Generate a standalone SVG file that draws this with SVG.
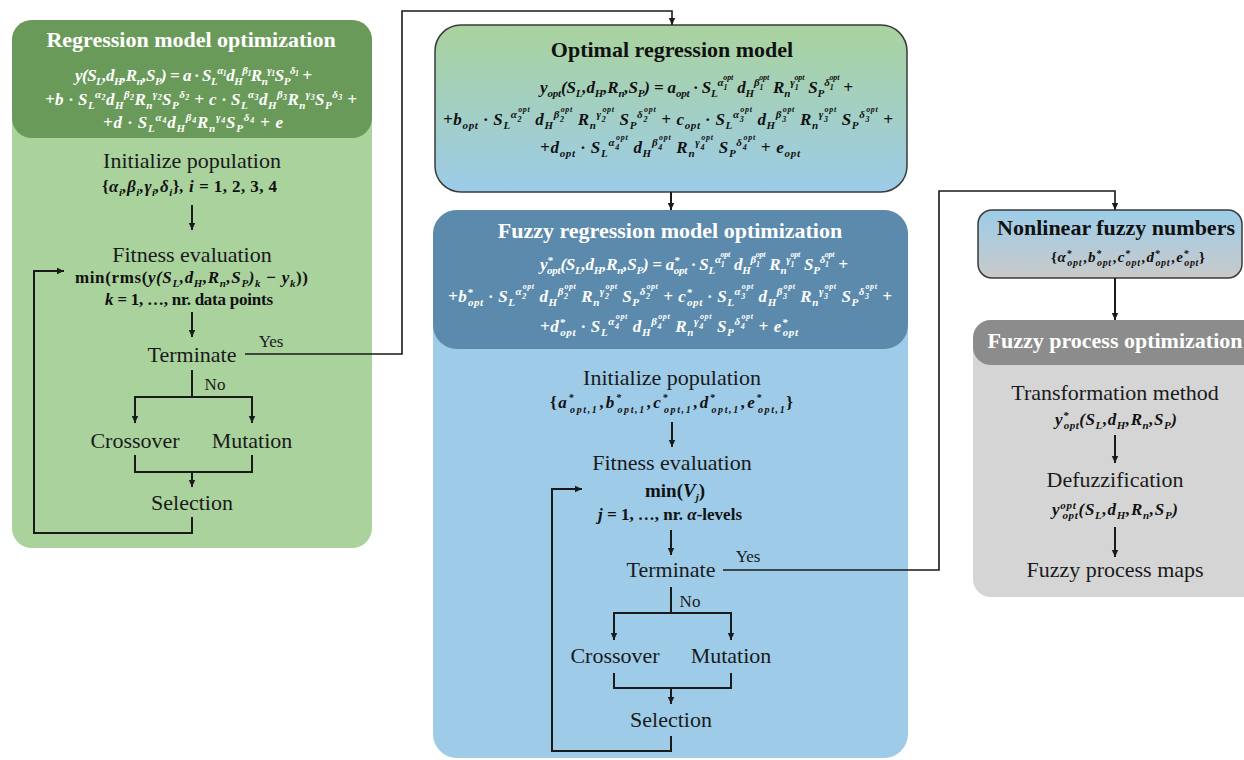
<svg xmlns="http://www.w3.org/2000/svg" width="1244" height="760" viewBox="0 0 1244 760">
<defs>
<linearGradient id="gOpt" x1="0" y1="0" x2="0" y2="1">
<stop offset="0" stop-color="#a9d39d"/><stop offset="1" stop-color="#9ccbe9"/>
</linearGradient>
<linearGradient id="gNon" x1="0" y1="0" x2="0" y2="1">
<stop offset="0" stop-color="#9ccde9"/><stop offset="1" stop-color="#c9c9c9"/>
</linearGradient>
<marker id="ah" markerUnits="userSpaceOnUse" markerWidth="8" markerHeight="8" refX="7" refY="4" orient="auto">
<path d="M0,0.8 L7,4 L0,7.2 z" fill="#1a1a1a"/>
</marker>
<style>
.t{font-family:"Liberation Serif",serif;font-size:22px;text-anchor:middle;fill:#1a1a1a}
.hd{font-weight:bold;fill:#fff}
.tb{font-weight:bold;fill:#111}
.lbl{font-size:17px}
.m{font-family:"Liberation Serif",serif;font-weight:bold;font-style:italic;font-size:17px;fill:#111}
.w{fill:#fff}
.s{font-size:11px}
.s2{font-size:10px}
.x{font-size:8px}
.u{font-style:normal}
.ln{fill:none;stroke:#1a1a1a;stroke-width:2}
.la{fill:none;stroke:#1a1a1a;stroke-width:2;marker-end:url(#ah)}
.lc{fill:none;stroke:#1a1a1a;stroke-width:1.6}
</style>
</defs>
<rect width="1244" height="760" fill="#fff"/>

<g id="regression-model-optimization">
<rect x="12" y="20" width="360" height="528" rx="20" fill="#a9d29d"/>
<rect x="12" y="20" width="360" height="118" rx="20" fill="#6a9a5a"/>
<text class="t hd" x="191" y="47">Regression model optimization</text>
<text class="m w" x="75" y="81" textLength="237" lengthAdjust="spacing">y(S<tspan class="s" baseline-shift="-4">L</tspan>,d<tspan class="s" baseline-shift="-4">H</tspan>,R<tspan class="s" baseline-shift="-4">n</tspan>,S<tspan class="s" baseline-shift="-4">P</tspan>) = a · S<tspan class="s" baseline-shift="-4">L</tspan><tspan class="s" baseline-shift="7">α</tspan><tspan class="x" baseline-shift="5">1</tspan>d<tspan class="s" baseline-shift="-4">H</tspan><tspan class="s" baseline-shift="7">β</tspan><tspan class="x" baseline-shift="5">1</tspan>R<tspan class="s" baseline-shift="-4">n</tspan><tspan class="s" baseline-shift="7">γ</tspan><tspan class="x" baseline-shift="5">1</tspan>S<tspan class="s" baseline-shift="-4">P</tspan><tspan class="s" baseline-shift="7">δ</tspan><tspan class="x" baseline-shift="5">1</tspan> +</text>
<text class="m w" x="45" y="105" textLength="312" lengthAdjust="spacing">+b · S<tspan class="s" baseline-shift="-4">L</tspan><tspan class="s" baseline-shift="7">α</tspan><tspan class="x" baseline-shift="5">2</tspan>d<tspan class="s" baseline-shift="-4">H</tspan><tspan class="s" baseline-shift="7">β</tspan><tspan class="x" baseline-shift="5">2</tspan>R<tspan class="s" baseline-shift="-4">n</tspan><tspan class="s" baseline-shift="7">γ</tspan><tspan class="x" baseline-shift="5">2</tspan>S<tspan class="s" baseline-shift="-4">P</tspan><tspan class="s" baseline-shift="7">δ</tspan><tspan class="x" baseline-shift="5">2</tspan> + c · S<tspan class="s" baseline-shift="-4">L</tspan><tspan class="s" baseline-shift="7">α</tspan><tspan class="x" baseline-shift="5">3</tspan>d<tspan class="s" baseline-shift="-4">H</tspan><tspan class="s" baseline-shift="7">β</tspan><tspan class="x" baseline-shift="5">3</tspan>R<tspan class="s" baseline-shift="-4">n</tspan><tspan class="s" baseline-shift="7">γ</tspan><tspan class="x" baseline-shift="5">3</tspan>S<tspan class="s" baseline-shift="-4">P</tspan><tspan class="s" baseline-shift="7">δ</tspan><tspan class="x" baseline-shift="5">3</tspan> +</text>
<text class="m w" x="103" y="128" textLength="180" lengthAdjust="spacing">+d · S<tspan class="s" baseline-shift="-4">L</tspan><tspan class="s" baseline-shift="7">α</tspan><tspan class="x" baseline-shift="5">4</tspan>d<tspan class="s" baseline-shift="-4">H</tspan><tspan class="s" baseline-shift="7">β</tspan><tspan class="x" baseline-shift="5">4</tspan>R<tspan class="s" baseline-shift="-4">n</tspan><tspan class="s" baseline-shift="7">γ</tspan><tspan class="x" baseline-shift="5">4</tspan>S<tspan class="s" baseline-shift="-4">P</tspan><tspan class="s" baseline-shift="7">δ</tspan><tspan class="x" baseline-shift="5">4</tspan> + e</text>
<text class="t" x="192" y="168">Initialize population</text>
<text class="m" x="102" y="192" textLength="175" lengthAdjust="spacing"><tspan class="u">{</tspan>α<tspan class="s" baseline-shift="-4">i</tspan>,β<tspan class="s" baseline-shift="-4">i</tspan>,γ<tspan class="s" baseline-shift="-4">i</tspan>,δ<tspan class="s" baseline-shift="-4">i</tspan><tspan class="u">}</tspan>, i = <tspan class="u">1, 2, 3, 4</tspan></text>
<text class="t" x="192" y="262">Fitness evaluation</text>
<text class="m" x="75" y="283" textLength="233" lengthAdjust="spacing"><tspan class="u">min(rms(</tspan>y(S<tspan class="s" baseline-shift="-4">L</tspan>,d<tspan class="s" baseline-shift="-4">H</tspan>,R<tspan class="s" baseline-shift="-4">n</tspan>,S<tspan class="s" baseline-shift="-4">P</tspan>)<tspan class="s" baseline-shift="-4">k</tspan> − y<tspan class="s" baseline-shift="-4">k</tspan><tspan class="u">))</tspan></text>
<text class="m" x="105" y="305" textLength="168" lengthAdjust="spacing">k = <tspan class="u">1, …, nr. data points</tspan></text>
<text class="t" x="192" y="362">Terminate</text>
<text class="t lbl" x="271" y="347">Yes</text>
<text class="t lbl" x="215" y="390">No</text>
<text class="t" x="135" y="448">Crossover</text>
<text class="t" x="252" y="448">Mutation</text>
<text class="t" x="192" y="510">Selection</text>
</g>

<g id="optimal-regression-model">
<rect x="435" y="25" width="472" height="167" rx="26" fill="url(#gOpt)" stroke="#3a3a3a" stroke-width="1.5"/>
<text class="t tb" x="672" y="57">Optimal regression model</text>
<text class="m" x="540" y="93" textLength="313" lengthAdjust="spacing">y<tspan class="s" baseline-shift="-4">opt</tspan>(S<tspan class="s" baseline-shift="-4">L</tspan>,d<tspan class="s" baseline-shift="-4">H</tspan>,R<tspan class="s" baseline-shift="-4">n</tspan>,S<tspan class="s" baseline-shift="-4">P</tspan>) = a<tspan class="s" baseline-shift="-4">opt</tspan> · S<tspan class="s" baseline-shift="-4">L</tspan><tspan class="s" baseline-shift="7">α</tspan><tspan class="x" baseline-shift="3">1</tspan><tspan class="x" dx="-4" baseline-shift="13">opt</tspan> d<tspan class="s" baseline-shift="-4">H</tspan><tspan class="s" baseline-shift="7">β</tspan><tspan class="x" baseline-shift="3">1</tspan><tspan class="x" dx="-4" baseline-shift="13">opt</tspan> R<tspan class="s" baseline-shift="-4">n</tspan><tspan class="s" baseline-shift="7">γ</tspan><tspan class="x" baseline-shift="3">1</tspan><tspan class="x" dx="-4" baseline-shift="13">opt</tspan> S<tspan class="s" baseline-shift="-4">P</tspan><tspan class="s" baseline-shift="7">δ</tspan><tspan class="x" baseline-shift="3">1</tspan><tspan class="x" dx="-4" baseline-shift="13">opt</tspan> +</text>
<text class="m" x="443" y="125" textLength="450" lengthAdjust="spacing">+b<tspan class="s" baseline-shift="-4">opt</tspan> · S<tspan class="s" baseline-shift="-4">L</tspan><tspan class="s" baseline-shift="7">α</tspan><tspan class="x" baseline-shift="3">2</tspan><tspan class="x" dx="-4" baseline-shift="13">opt</tspan> d<tspan class="s" baseline-shift="-4">H</tspan><tspan class="s" baseline-shift="7">β</tspan><tspan class="x" baseline-shift="3">2</tspan><tspan class="x" dx="-4" baseline-shift="13">opt</tspan> R<tspan class="s" baseline-shift="-4">n</tspan><tspan class="s" baseline-shift="7">γ</tspan><tspan class="x" baseline-shift="3">2</tspan><tspan class="x" dx="-4" baseline-shift="13">opt</tspan> S<tspan class="s" baseline-shift="-4">P</tspan><tspan class="s" baseline-shift="7">δ</tspan><tspan class="x" baseline-shift="3">2</tspan><tspan class="x" dx="-4" baseline-shift="13">opt</tspan> + c<tspan class="s" baseline-shift="-4">opt</tspan> · S<tspan class="s" baseline-shift="-4">L</tspan><tspan class="s" baseline-shift="7">α</tspan><tspan class="x" baseline-shift="3">3</tspan><tspan class="x" dx="-4" baseline-shift="13">opt</tspan> d<tspan class="s" baseline-shift="-4">H</tspan><tspan class="s" baseline-shift="7">β</tspan><tspan class="x" baseline-shift="3">3</tspan><tspan class="x" dx="-4" baseline-shift="13">opt</tspan> R<tspan class="s" baseline-shift="-4">n</tspan><tspan class="s" baseline-shift="7">γ</tspan><tspan class="x" baseline-shift="3">3</tspan><tspan class="x" dx="-4" baseline-shift="13">opt</tspan> S<tspan class="s" baseline-shift="-4">P</tspan><tspan class="s" baseline-shift="7">δ</tspan><tspan class="x" baseline-shift="3">3</tspan><tspan class="x" dx="-4" baseline-shift="13">opt</tspan> +</text>
<text class="m" x="540" y="153" textLength="260" lengthAdjust="spacing">+d<tspan class="s" baseline-shift="-4">opt</tspan> · S<tspan class="s" baseline-shift="-4">L</tspan><tspan class="s" baseline-shift="7">α</tspan><tspan class="x" baseline-shift="3">4</tspan><tspan class="x" dx="-4" baseline-shift="13">opt</tspan> d<tspan class="s" baseline-shift="-4">H</tspan><tspan class="s" baseline-shift="7">β</tspan><tspan class="x" baseline-shift="3">4</tspan><tspan class="x" dx="-4" baseline-shift="13">opt</tspan> R<tspan class="s" baseline-shift="-4">n</tspan><tspan class="s" baseline-shift="7">γ</tspan><tspan class="x" baseline-shift="3">4</tspan><tspan class="x" dx="-4" baseline-shift="13">opt</tspan> S<tspan class="s" baseline-shift="-4">P</tspan><tspan class="s" baseline-shift="7">δ</tspan><tspan class="x" baseline-shift="3">4</tspan><tspan class="x" dx="-4" baseline-shift="13">opt</tspan> + e<tspan class="s" baseline-shift="-4">opt</tspan></text>
</g>

<g id="fuzzy-regression-model-optimization">
<rect x="433" y="210" width="475" height="548" rx="24" fill="#9dcbe8"/>
<rect x="433" y="210" width="475" height="139" rx="24" fill="#5c8aac"/>
<text class="t hd" x="670" y="238">Fuzzy regression model optimization</text>
<text class="m w" x="540" y="270" textLength="308" lengthAdjust="spacing">y<tspan class="s" baseline-shift="6">*</tspan><tspan class="s" dx="-5.5" baseline-shift="-4">opt</tspan>(S<tspan class="s" baseline-shift="-4">L</tspan>,d<tspan class="s" baseline-shift="-4">H</tspan>,R<tspan class="s" baseline-shift="-4">n</tspan>,S<tspan class="s" baseline-shift="-4">P</tspan>) = a<tspan class="s" baseline-shift="6">*</tspan><tspan class="s" dx="-5.5" baseline-shift="-4">opt</tspan> · S<tspan class="s" baseline-shift="-4">L</tspan><tspan class="s" baseline-shift="7">α</tspan><tspan class="x" baseline-shift="3">1</tspan><tspan class="x" dx="-4" baseline-shift="13">opt</tspan> d<tspan class="s" baseline-shift="-4">H</tspan><tspan class="s" baseline-shift="7">β</tspan><tspan class="x" baseline-shift="3">1</tspan><tspan class="x" dx="-4" baseline-shift="13">opt</tspan> R<tspan class="s" baseline-shift="-4">n</tspan><tspan class="s" baseline-shift="7">γ</tspan><tspan class="x" baseline-shift="3">1</tspan><tspan class="x" dx="-4" baseline-shift="13">opt</tspan> S<tspan class="s" baseline-shift="-4">P</tspan><tspan class="s" baseline-shift="7">δ</tspan><tspan class="x" baseline-shift="3">1</tspan><tspan class="x" dx="-4" baseline-shift="13">opt</tspan> +</text>
<text class="m w" x="448" y="302" textLength="444" lengthAdjust="spacing">+b<tspan class="s" baseline-shift="6">*</tspan><tspan class="s" dx="-5.5" baseline-shift="-4">opt</tspan> · S<tspan class="s" baseline-shift="-4">L</tspan><tspan class="s" baseline-shift="7">α</tspan><tspan class="x" baseline-shift="3">2</tspan><tspan class="x" dx="-4" baseline-shift="13">opt</tspan> d<tspan class="s" baseline-shift="-4">H</tspan><tspan class="s" baseline-shift="7">β</tspan><tspan class="x" baseline-shift="3">2</tspan><tspan class="x" dx="-4" baseline-shift="13">opt</tspan> R<tspan class="s" baseline-shift="-4">n</tspan><tspan class="s" baseline-shift="7">γ</tspan><tspan class="x" baseline-shift="3">2</tspan><tspan class="x" dx="-4" baseline-shift="13">opt</tspan> S<tspan class="s" baseline-shift="-4">P</tspan><tspan class="s" baseline-shift="7">δ</tspan><tspan class="x" baseline-shift="3">2</tspan><tspan class="x" dx="-4" baseline-shift="13">opt</tspan> + c<tspan class="s" baseline-shift="6">*</tspan><tspan class="s" dx="-5.5" baseline-shift="-4">opt</tspan> · S<tspan class="s" baseline-shift="-4">L</tspan><tspan class="s" baseline-shift="7">α</tspan><tspan class="x" baseline-shift="3">3</tspan><tspan class="x" dx="-4" baseline-shift="13">opt</tspan> d<tspan class="s" baseline-shift="-4">H</tspan><tspan class="s" baseline-shift="7">β</tspan><tspan class="x" baseline-shift="3">3</tspan><tspan class="x" dx="-4" baseline-shift="13">opt</tspan> R<tspan class="s" baseline-shift="-4">n</tspan><tspan class="s" baseline-shift="7">γ</tspan><tspan class="x" baseline-shift="3">3</tspan><tspan class="x" dx="-4" baseline-shift="13">opt</tspan> S<tspan class="s" baseline-shift="-4">P</tspan><tspan class="s" baseline-shift="7">δ</tspan><tspan class="x" baseline-shift="3">3</tspan><tspan class="x" dx="-4" baseline-shift="13">opt</tspan> +</text>
<text class="m w" x="540" y="332" textLength="258" lengthAdjust="spacing">+d<tspan class="s" baseline-shift="6">*</tspan><tspan class="s" dx="-5.5" baseline-shift="-4">opt</tspan> · S<tspan class="s" baseline-shift="-4">L</tspan><tspan class="s" baseline-shift="7">α</tspan><tspan class="x" baseline-shift="3">4</tspan><tspan class="x" dx="-4" baseline-shift="13">opt</tspan> d<tspan class="s" baseline-shift="-4">H</tspan><tspan class="s" baseline-shift="7">β</tspan><tspan class="x" baseline-shift="3">4</tspan><tspan class="x" dx="-4" baseline-shift="13">opt</tspan> R<tspan class="s" baseline-shift="-4">n</tspan><tspan class="s" baseline-shift="7">γ</tspan><tspan class="x" baseline-shift="3">4</tspan><tspan class="x" dx="-4" baseline-shift="13">opt</tspan> S<tspan class="s" baseline-shift="-4">P</tspan><tspan class="s" baseline-shift="7">δ</tspan><tspan class="x" baseline-shift="3">4</tspan><tspan class="x" dx="-4" baseline-shift="13">opt</tspan> + e<tspan class="s" baseline-shift="6">*</tspan><tspan class="s" dx="-5.5" baseline-shift="-4">opt</tspan></text>
<text class="t" x="672" y="385">Initialize population</text>
<text class="m" x="550" y="408" textLength="243" lengthAdjust="spacing"><tspan class="u">{</tspan>a<tspan class="s2" baseline-shift="7">*</tspan><tspan class="s2" dx="-5" baseline-shift="-5">opt,1</tspan><tspan dx="1.5">,</tspan>b<tspan class="s2" baseline-shift="7">*</tspan><tspan class="s2" dx="-5" baseline-shift="-5">opt,1</tspan><tspan dx="1.5">,</tspan>c<tspan class="s2" baseline-shift="7">*</tspan><tspan class="s2" dx="-5" baseline-shift="-5">opt,1</tspan><tspan dx="1.5">,</tspan>d<tspan class="s2" baseline-shift="7">*</tspan><tspan class="s2" dx="-5" baseline-shift="-5">opt,1</tspan><tspan dx="1.5">,</tspan>e<tspan class="s2" baseline-shift="7">*</tspan><tspan class="s2" dx="-5" baseline-shift="-5">opt,1</tspan><tspan class="u">}</tspan></text>
<text class="t" x="672" y="470">Fitness evaluation</text>
<text class="m" x="675" y="497" style="font-size:19px;text-anchor:middle"><tspan class="u">min(</tspan>V<tspan class="s" baseline-shift="-4">j</tspan><tspan class="u">)</tspan></text>
<text class="m" x="598" y="520" textLength="144" lengthAdjust="spacing">j = <tspan class="u">1, …, nr. </tspan>α<tspan class="u">-levels</tspan></text>
<text class="t" x="671" y="577">Terminate</text>
<text class="t lbl" x="748" y="562">Yes</text>
<text class="t lbl" x="690" y="607">No</text>
<text class="t" x="615" y="663">Crossover</text>
<text class="t" x="731" y="663">Mutation</text>
<text class="t" x="671" y="727">Selection</text>
</g>

<g id="nonlinear-fuzzy-numbers">
<rect x="978" y="210" width="264" height="68" rx="14" fill="url(#gNon)" stroke="#3a3a3a" stroke-width="1.5"/>
<text class="t tb" x="1116" y="235">Nonlinear fuzzy numbers</text>
<text class="m" x="1051" y="262" textLength="154" lengthAdjust="spacing" style="font-size:15px"><tspan class="u">{</tspan>α<tspan class="s2" baseline-shift="5">*</tspan><tspan class="s2" dx="-5" baseline-shift="-4">opt</tspan><tspan dx="1.5">,</tspan>b<tspan class="s2" baseline-shift="5">*</tspan><tspan class="s2" dx="-5" baseline-shift="-4">opt</tspan><tspan dx="1.5">,</tspan>c<tspan class="s2" baseline-shift="5">*</tspan><tspan class="s2" dx="-5" baseline-shift="-4">opt</tspan><tspan dx="1.5">,</tspan>d<tspan class="s2" baseline-shift="5">*</tspan><tspan class="s2" dx="-5" baseline-shift="-4">opt</tspan><tspan dx="1.5">,</tspan>e<tspan class="s2" baseline-shift="5">*</tspan><tspan class="s2" dx="-5" baseline-shift="-4">opt</tspan><tspan class="u">}</tspan></text>
</g>

<g id="fuzzy-process-optimization">
<rect x="973" y="320" width="295" height="277" rx="18" fill="#d5d5d5"/>
<rect x="973" y="320" width="295" height="45" rx="18" fill="#8c8c8c"/>
<text class="t hd" x="1115" y="348">Fuzzy process optimization</text>
<text class="t" x="1115" y="400">Transformation method</text>
<text class="m" x="1055" y="425" textLength="122" lengthAdjust="spacing">y<tspan class="s" baseline-shift="6">*</tspan><tspan class="s" dx="-5.5" baseline-shift="-4">opt</tspan>(S<tspan class="s" baseline-shift="-4">L</tspan>,d<tspan class="s" baseline-shift="-4">H</tspan>,R<tspan class="s" baseline-shift="-4">n</tspan>,S<tspan class="s" baseline-shift="-4">P</tspan>)</text>
<text class="t" x="1115" y="487">Defuzzification</text>
<text class="m" x="1052" y="515" textLength="126" lengthAdjust="spacing">y<tspan class="s" baseline-shift="6">opt</tspan><tspan class="s" dx="-14" baseline-shift="-4">opt</tspan>(S<tspan class="s" baseline-shift="-4">L</tspan>,d<tspan class="s" baseline-shift="-4">H</tspan>,R<tspan class="s" baseline-shift="-4">n</tspan>,S<tspan class="s" baseline-shift="-4">P</tspan>)</text>
<text class="t" x="1115" y="577">Fuzzy process maps</text>
</g>

<g id="connectors">
<path class="la" d="M192,205 V230"/>
<path class="la" d="M192,312 V337"/>
<path class="ln" d="M192,370 V397 M135,397 H252"/>
<path class="la" d="M135,396 V423"/>
<path class="la" d="M252,396 V423"/>
<path class="ln" d="M135,455 V472 H252 V455"/>
<path class="la" d="M192,472 V487"/>
<path class="la" d="M192,517 V533 H34 V271 H64"/>
<path class="lc" d="M245,354 H402 V11 H672 V25" marker-end="url(#ah)"/>
<path class="la" d="M671,192 V210"/>
<path class="la" d="M672,422 V447"/>
<path class="la" d="M671,530 V555"/>
<path class="ln" d="M671,587 V613 M614,613 H731"/>
<path class="la" d="M614,612 V640"/>
<path class="la" d="M731,612 V640"/>
<path class="ln" d="M614,673 V688 H731 V673"/>
<path class="la" d="M671,688 V704"/>
<path class="la" d="M671,736 V751 H552 V489 H582"/>
<path class="lc" d="M723,570 H939 V191 H1115 V210" marker-end="url(#ah)"/>
<path class="la" d="M1115,278 V320"/>
<path class="la" d="M1115,435 V463"/>
<path class="la" d="M1115,527 V557"/>
</g>
</svg>
